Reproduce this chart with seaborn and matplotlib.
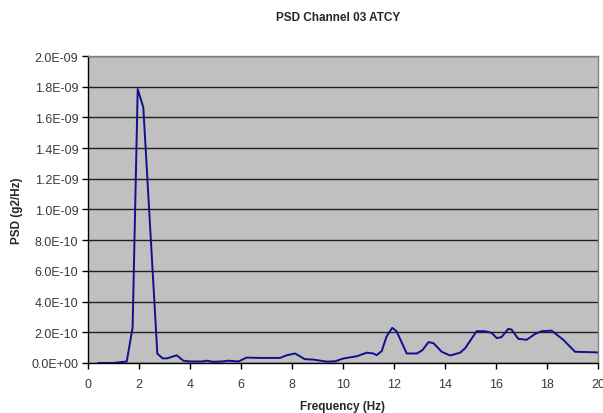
import matplotlib
matplotlib.use("Agg")
import matplotlib.pyplot as plt
import seaborn as sns
import pandas as pd

# PSD values (units of 1e-10 g2/Hz)
freq = [0.4, 1.0, 1.52, 1.75, 1.95, 2.17, 2.72, 2.93, 3.1, 3.48, 3.74, 4.0, 4.5,
        4.65, 4.9, 5.27, 5.5, 5.9, 6.22, 6.75, 7.53, 7.79, 8.12, 8.5, 8.84,
        9.36, 9.69, 10.01, 10.54, 10.93, 11.19, 11.32, 11.52, 11.71, 11.93,
        12.1, 12.5, 12.9, 13.12, 13.35, 13.55, 13.87, 14.2, 14.59, 14.79,
        15.24, 15.57, 15.83, 16.03, 16.22, 16.48, 16.61, 16.87, 17.2, 17.53,
        17.79, 18.18, 18.64, 19.1, 20.0]
psd_e10 = [0.0, 0.0, 0.1, 2.3, 17.85, 16.65, 0.6, 0.3, 0.3, 0.5, 0.15, 0.1, 0.1,
           0.15, 0.08, 0.1, 0.15, 0.1, 0.35, 0.33, 0.33, 0.5, 0.62, 0.25, 0.22,
           0.09, 0.11, 0.29, 0.44, 0.67, 0.62, 0.51, 0.78, 1.73, 2.29,
           2.07, 0.62, 0.62, 0.84, 1.36, 1.29, 0.73, 0.49, 0.67, 0.96,
           2.07, 2.07, 1.96, 1.62, 1.69, 2.22, 2.18, 1.58, 1.51, 1.89,
           2.07, 2.11, 1.51, 0.73, 0.69]
ytick_labels = ["0.0E+00", "2.0E-10", "4.0E-10", "6.0E-10", "8.0E-10", "1.0E-09",
                "1.2E-09", "1.4E-09", "1.6E-09", "1.8E-09", "2.0E-09"]

df = pd.DataFrame({"freq": freq, "psd": [v * 1e-10 for v in psd_e10]})

sns.set_style("white")
plt.rcParams['font.family'] = ['Liberation Sans', 'DejaVu Sans']

fig = plt.figure(figsize=(6.03, 4.14), dpi=100)
ax = fig.add_axes([0.1459, 0.1208, 0.8458, 0.7415])
ax.set_facecolor("#C0C0C0")

sns.lineplot(data=df, x="freq", y="psd", color="#10108C", linewidth=1.4, ax=ax)

ax.set_xlim(0, 20)
ax.set_ylim(0, 2.0e-9)
ax.set_xticks(range(0, 21, 2))
ax.set_yticks([i * 2e-10 for i in range(11)])
ax.set_yticklabels(ytick_labels)

ax.yaxis.grid(True, color="#202020", linewidth=1.0)
ax.xaxis.grid(False)
ax.set_axisbelow(True)

for s in ["top", "right"]:
    ax.spines[s].set_color("#808080")
    ax.spines[s].set_linewidth(1.0)
for s in ["left", "bottom"]:
    ax.spines[s].set_color("black")
    ax.spines[s].set_linewidth(1.0)

ax.tick_params(axis="both", direction="out", length=4, width=1, color="black",
               labelsize=9, labelcolor="#3a3a3a", left=True, bottom=True)
ax.tick_params(axis="x", pad=7)
ax.tick_params(axis="y", pad=3)

ax.set_xlabel("Frequency (Hz)", fontsize=8.5, fontweight="bold", labelpad=7)
ax.set_ylabel("PSD (g2/Hz)", fontsize=8.5, fontweight="bold", labelpad=6)
fig.suptitle("PSD Channel 03 ATCY", fontsize=8.5, fontweight="bold", x=0.56, y=0.97)

fig.savefig("out.png", dpi=100)
